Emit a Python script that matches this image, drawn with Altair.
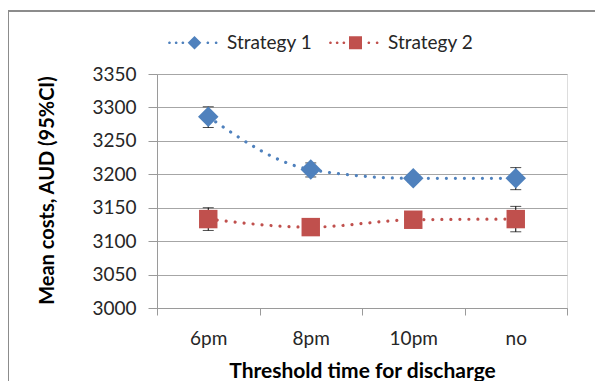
import altair as alt
import pandas as pd

categories = ["6pm", "8pm", "10pm", "no"]
series_names = ["Strategy 1", "Strategy 2"]
s1_mean = [3286, 3207, 3194, 3194]
s1_low = [3270, 3196, 3188, 3177]
s1_high = [3301, 3217, 3200, 3210]
s2_mean = [3133, 3121, 3132, 3133]
s2_low = [3116, 3115, 3126, 3114]
s2_high = [3150, 3127, 3138, 3152]
y_ticks = [3000, 3050, 3100, 3150, 3200, 3250, 3300, 3350]

colors = ["#4F81BD", "#C0504D"]
shapes = ["diamond", "square"]

rows = []
for name, m, lo, hi in [("Strategy 1", s1_mean, s1_low, s1_high),
                        ("Strategy 2", s2_mean, s2_low, s2_high)]:
    for c, a, b, d in zip(categories, m, lo, hi):
        rows.append({"Threshold": c, "Series": name, "Value": a, "Low": b, "High": d})
df = pd.DataFrame(rows)

FONT = "Lato"
W, H = 410, 234

x_enc = alt.X("Threshold:N", sort=categories,
              scale=alt.Scale(type="band", paddingInner=0, paddingOuter=0),
              axis=alt.Axis(title="Threshold time for discharge", tickBand="extent",
                            labelAngle=0, labelFontSize=19, labelFont=FONT, labelColor="#262626",
                            labelPadding=14, tickSize=7, tickColor="#9a9a9a",
                            domainColor="#9a9a9a", titleFont=FONT, titleFontSize=21,
                            titleFontWeight="bold", titleColor="#000000",
                            titleX=W / 2, titleY=63, titleBaseline="middle"))
y_scale = alt.Scale(domain=[3000, 3350], nice=False, zero=False)
y_axis = alt.Axis(title="Mean costs, AUD (95%CI)", values=y_ticks, format="d",
                  labelOverlap=False, grid=True, gridColor="#a6a6a6", tickSize=9,
                  tickColor="#9a9a9a", domainColor="#9a9a9a", labelFontSize=19,
                  labelFont=FONT, labelColor="#262626", labelPadding=12,
                  titleFont=FONT, titleFontSize=20, titleFontWeight="bold",
                  titleColor="#000000", titleX=-110, titleY=H / 2 - 1,
                  titleBaseline="middle", titleAngle=-90, titleAlign="center")


def y_of(field):
    return alt.Y(f"{field}:Q", scale=y_scale, axis=y_axis)


base = alt.Chart(df)

border = alt.Chart(df).mark_rect(fill=None, stroke="#8c8c8c", strokeWidth=2).encode(
    x=alt.value(-149), x2=alt.value(470), y=alt.value(-63), y2=alt.value(340))

layers = [border]

err_rule = base.mark_rule(color="#000000", strokeWidth=1).encode(
    x=x_enc, y=y_of("Low"), y2="High:Q")
cap_lo = base.mark_tick(color="#000000", thickness=1, size=11).encode(
    x=x_enc, y=y_of("Low"))
cap_hi = base.mark_tick(color="#000000", thickness=1, size=11).encode(
    x=x_enc, y=y_of("High"))
layers += [err_rule, cap_lo, cap_hi]

for name, col, shp in zip(series_names, colors, shapes):
    sub = base.transform_filter(alt.datum.Series == name)
    line = sub.mark_line(color=col, strokeWidth=3.2, strokeDash=[0.01, 9],
                         strokeCap="round", interpolate="monotone").encode(x=x_enc, y=y_of("Value"))
    pts = sub.mark_point(filled=True, opacity=1, color=col, shape=shp,
                         size=420 if shp == "diamond" else 340).encode(x=x_enc, y=y_of("Value"))
    layers += [line, pts]


def dots(xs, r=0.21):
    return "".join(f"M{x - r:.3f},0A{r},{r} 0 1,0 {x + r:.3f},0A{r},{r} 0 1,0 {x - r:.3f},0Z"
                   for x in xs)


dot_pos = [-3.85, -2.82, -1.79, 2.05, 3.33]
legend_paths = [
    "M0,-1.05L1.05,0L0,1.05L-1.05,0Z" + dots(dot_pos),
    "M-1,-1L1,-1L1,1L-1,1Z" + dots(dot_pos),
]

legend_layer = base.transform_filter("datum.Value < 0").mark_point(filled=True, opacity=1).encode(
    x=x_enc, y=y_of("Value"),
    color=alt.Color("Series:N", scale=alt.Scale(domain=series_names, range=colors),
                    legend=alt.Legend(title=None, orient="none", legendX=28, legendY=-41,
                                      direction="horizontal", labelFont=FONT,
                                      labelFontSize=19, labelColor="#262626",
                                      symbolSize=169, symbolStrokeWidth=0,
                                      labelOffset=23, columnPadding=16, padding=0)),
    shape=alt.Shape("Series:N", scale=alt.Scale(domain=series_names, range=legend_paths)),
)
layers.append(legend_layer)

chart = alt.layer(*layers).properties(
    width=W, height=H,
    autosize=alt.AutoSizeParams(type="none"),
    padding={"left": 149, "top": 66, "right": 28, "bottom": 73},
).configure_view(stroke=None).configure(background="#ffffff")

chart.save("out.html", embed_options={"renderer": "svg", "actions": False})
